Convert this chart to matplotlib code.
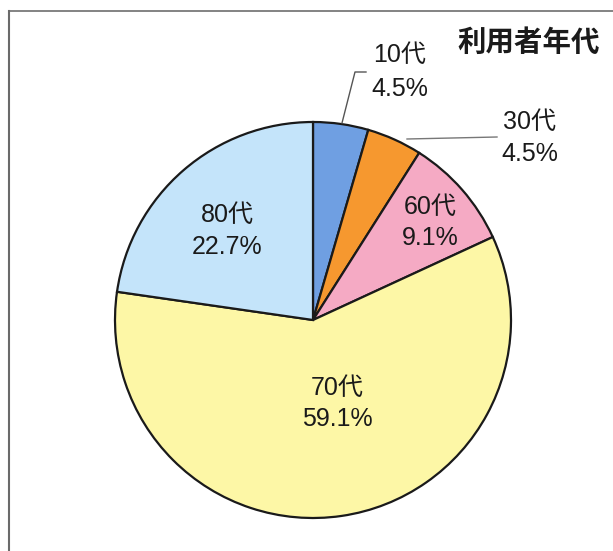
import matplotlib
matplotlib.use("Agg")
import matplotlib.pyplot as plt
from matplotlib import font_manager

labels = ["10代", "30代", "60代", "70代", "80代"]
values = [4.5, 4.5, 9.1, 59.1, 22.7]
pct_labels = ["4.5%", "4.5%", "9.1%", "59.1%", "22.7%"]
colors = ["#6f9fe2", "#f6982f", "#f5aac4", "#fdf7a6", "#c4e4fa"]
title = "利用者年代"

names = {f.name for f in font_manager.fontManager.ttflist}
narrow = "Liberation Sans Narrow" if "Liberation Sans Narrow" in names else "Liberation Sans"
fam = [narrow, "Noto Sans CJK JP", "DejaVu Sans"]

W, H = 613, 551
fig = plt.figure(figsize=(W / 100, H / 100), dpi=100)
ax = fig.add_axes([0, 0, 1, 1])
ax.set_xlim(0, W)
ax.set_ylim(0, H)
ax.set_aspect("equal")
ax.axis("off")

def Y(y):
    return H - y

cx, cy, r = 313, 320, 198
ax.pie(values, colors=colors, startangle=90, counterclock=False,
       center=(cx, Y(cy)), radius=r, frame=False,
       wedgeprops=dict(edgecolor="#1a1a1a", linewidth=1.6))
ax.set_xlim(0, W)
ax.set_ylim(0, H)

# frame
ax.plot([9, W], [Y(11), Y(11)], color="#7a7a7a", lw=1.3)
ax.plot([9, 9], [Y(11), 0], color="#6a6a6a", lw=1.5)

# title
ax.text(529, Y(43), title, ha="center", va="center", fontsize=20.5,
        fontweight="bold", family=["Noto Sans CJK JP"], color="#1a1a1a")

# label positions (pixel coords)
lab_pos = [(400, 55, 89), (530, 122, 154), (430, 207, 238), (337, 388, 419), (227, 215, 247)]
for (x, y1, y2), name, pct in zip(lab_pos, labels, pct_labels):
    ax.text(x, Y(y1), name, ha="center", va="center", fontsize=18,
            family=fam, color="#1a1a1a")
    ax.text(x, Y(y2), pct, ha="center", va="center", fontsize=18,
            family=fam, color="#1a1a1a")

# leader lines
ax.plot([342, 355, 366], [Y(123), Y(72), Y(72)], color="#555555", lw=1.0)
ax.plot([407, 497], [Y(139), Y(137)], color="#777777", lw=1.0)

fig.savefig("out.png", dpi=100)
